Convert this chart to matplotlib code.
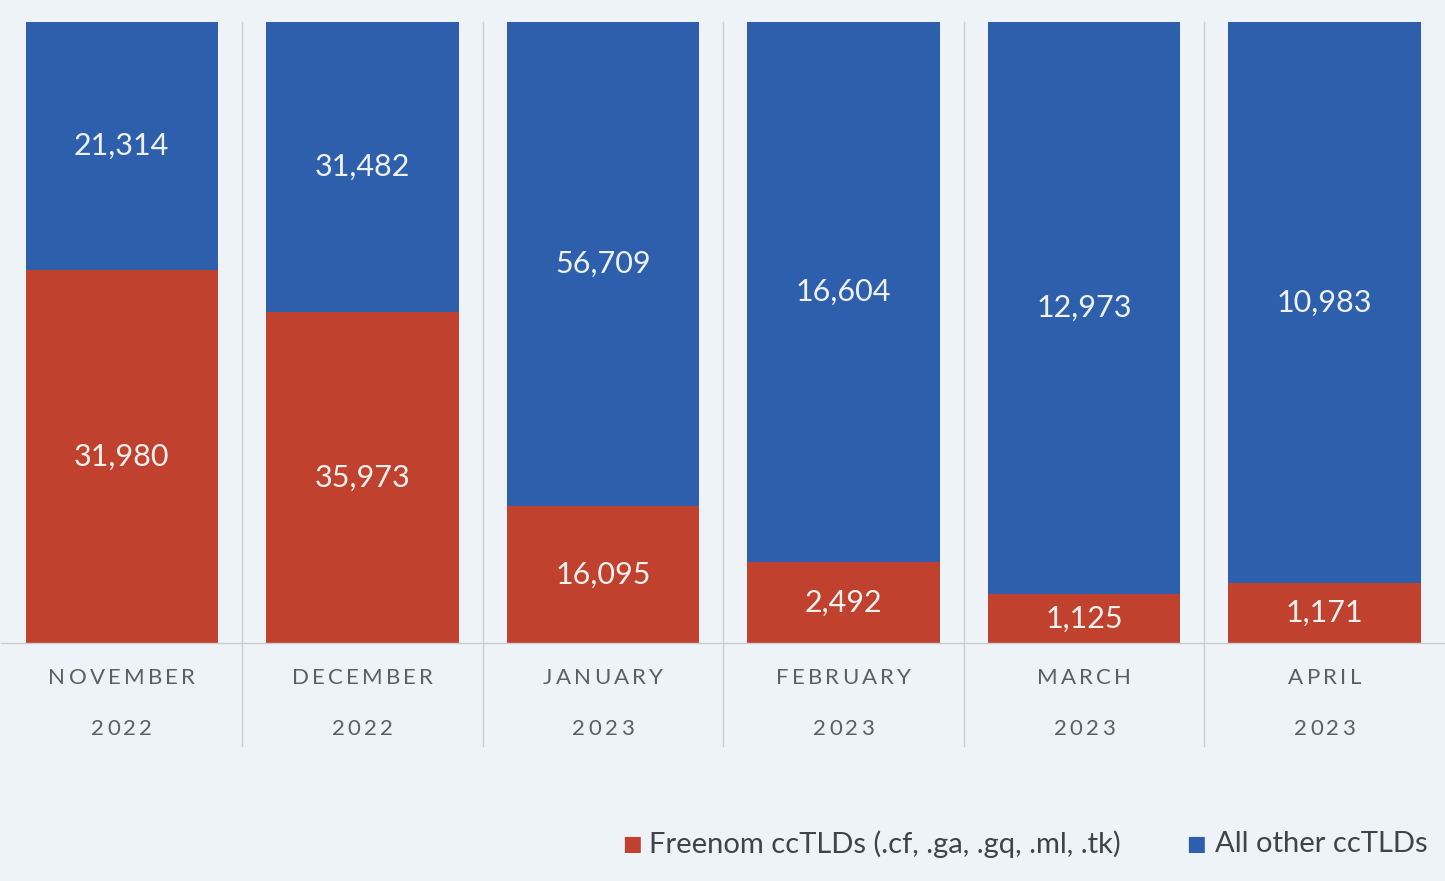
import matplotlib.pyplot as plt
import matplotlib.transforms as mtransforms
import numpy as np

# data
months = ["NOVEMBER", "DECEMBER", "JANUARY", "FEBRUARY", "MARCH", "APRIL"]
years = ["2022", "2022", "2023", "2023", "2023", "2023"]
freenom = [31980, 35973, 16095, 2492, 1125, 1171]
others = [21314, 31482, 56709, 16604, 12973, 10983]

BG = "#eef3f7"
RED = "#c1412f"
BLUE = "#2e5fac"
GRID = "#c9ced3"
LABEL = "#5a5f66"

plt.rcParams['font.family'] = ['Lato', 'DejaVu Sans']


def spaced_text(ax, x, y, s, fontsize, tracking, color):
    """Draw s centred at data (x, y) with extra letter spacing (pixels)."""
    fig = ax.figure
    r = fig.canvas.get_renderer()
    widths = []
    for k in range(len(s) + 1):
        t = fig.text(0, 0, s[:k] if k else "", fontsize=fontsize)
        widths.append(t.get_window_extent(r).width if k else 0.0)
        t.remove()
    total = widths[-1] + tracking * (len(s) - 1)
    for k, ch in enumerate(s):
        dx = -total / 2 + widths[k] + tracking * k
        tr = ax.transData + mtransforms.ScaledTranslation(dx / fig.dpi, 0, fig.dpi_scale_trans)
        ax.text(x, y, ch, ha="left", va="center", color=color, fontsize=fontsize,
                transform=tr, clip_on=False)


fig = plt.figure(figsize=(14.45, 8.81), dpi=100, facecolor=BG)
ax = fig.add_axes([0.001, 0.270, 0.999, 0.705])
ax.set_facecolor(BG)

x = np.arange(len(months))
fr = np.array(freenom, dtype=float)
ot = np.array(others, dtype=float)
total = fr + ot
fr_pct = fr / total
ot_pct = ot / total

ax.bar(x, fr_pct, width=0.8, color=RED, zorder=2)
ax.bar(x, ot_pct, width=0.8, bottom=fr_pct, color=BLUE, zorder=2)

for i in range(len(x)):
    ax.text(x[i], fr_pct[i] / 2, f"{freenom[i]:,}", ha="center", va="center",
            color="#f4f1ef", fontsize=22, zorder=3)
    ax.text(x[i], fr_pct[i] + ot_pct[i] / 2, f"{others[i]:,}", ha="center",
            va="center", color="#eef2f8", fontsize=22, zorder=3)

ax.set_xlim(-0.5, len(x) - 0.5)
ax.set_ylim(0, 1)
for s in ["top", "right", "left"]:
    ax.spines[s].set_visible(False)
ax.spines["bottom"].set_color(GRID)
ax.spines["bottom"].set_linewidth(1.0)
ax.set_yticks([])
ax.set_xticks([])

# category separators, running down into the label area
for b in np.arange(0.5, len(x) - 0.5, 1.0):
    ax.plot([b, b], [-0.165, 1.0], color=GRID, lw=1.0, clip_on=False, zorder=1)

for i in range(len(x)):
    spaced_text(ax, x[i], -0.056, months[i], 16, 3.2, LABEL)
    spaced_text(ax, x[i], -0.138, years[i], 16, 3.2, LABEL)

# legend
fig.text(0.4375, 0.042, "\u25A0", color=RED, fontsize=15, ha="center", va="center",
         family="DejaVu Sans")
fig.text(0.449, 0.042, "Freenom ccTLDs (.cf, .ga, .gq, .ml, .tk)", color="#404448",
         fontsize=21, ha="left", va="center")
fig.text(0.8275, 0.042, "\u25A0", color=BLUE, fontsize=15, ha="center", va="center",
         family="DejaVu Sans")
fig.text(0.8405, 0.042, "All other ccTLDs", color="#404448",
         fontsize=21, ha="left", va="center")

fig.savefig("out.png", dpi=100, facecolor=BG)
